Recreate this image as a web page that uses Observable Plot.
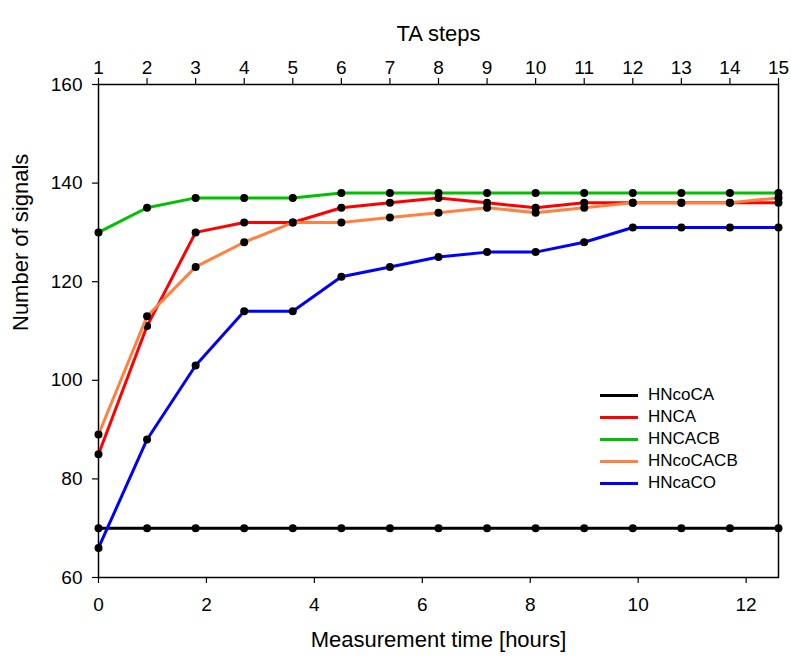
<!DOCTYPE html>
<html>
<head>
<meta charset="utf-8">
<script src="https://cdn.jsdelivr.net/npm/d3@7"></script>
<script src="https://cdn.jsdelivr.net/npm/@observablehq/plot@0.6"></script>
<style>
  html, body { margin: 0; padding: 0; background: #fff; }
  #wrap { position: relative; width: 791px; height: 658px; font-family: "Liberation Sans", Arial, sans-serif; }
  #legend { position: absolute; left: 600px; top: 384px; font-size: 17px; color: #000; }
  .row { display: flex; align-items: center; height: 22px; }
  .sw { width: 38px; height: 3px; margin-right: 10px; }
</style>
</head>
<body>
<div id="wrap"></div>
<script>
const steps = [1,2,3,4,5,6,7,8,9,10,11,12,13,14,15];
const hours = [0,0.9,1.8,2.7,3.6,4.5,5.4,6.3,7.2,8.1,9.0,9.9,10.8,11.7,12.6];
const seriesNames = ["HNcoCA","HNCA","HNCACB","HNcoCACB","HNcaCO"];
const seriesColors = ["#000000","#ff0000","#00c000","#ff8040","#0000ff"];
const HNcoCA   = [70,70,70,70,70,70,70,70,70,70,70,70,70,70,70];
const HNCA     = [85,111,130,132,132,135,136,137,136,135,136,136,136,136,136];
const HNCACB   = [130,135,137,137,137,138,138,138,138,138,138,138,138,138,138];
const HNcoCACB = [89,113,123,128,132,132,133,134,135,134,135,136,136,136,137];
const HNcaCO   = [66,88,103,114,114,121,123,125,126,126,128,131,131,131,131];
const bottomTicks = [0,2,4,6,8,10,12];
const yTicks = [60,80,100,120,140,160];

const values = [HNcoCA, HNCA, HNCACB, HNcoCACB, HNcaCO];
const data = [];
seriesNames.forEach((s, k) => values[k].forEach((v, i) => data.push({series: s, t: hours[i], step: steps[i], v})));

const marks = [];
seriesNames.forEach((s, k) => {
  const d = data.filter(r => r.series === s);
  marks.push(Plot.line(d, {x: "t", y: "v", stroke: seriesColors[k], strokeWidth: 3}));
  marks.push(Plot.dot(d, {x: "t", y: "v", r: 4, fill: "black", stroke: "none"}));
});

const chart = Plot.plot({
  width: 791,
  height: 658,
  marginLeft: 98,
  marginRight: 13,
  marginTop: 84,
  marginBottom: 81,
  style: {fontFamily: "'Liberation Sans', Arial, sans-serif", fontSize: "19px", background: "white", color: "black"},
  x: {domain: [0, 12.6]},
  y: {domain: [60, 160]},
  marks: [
    Plot.axisX(bottomTicks, {anchor: "bottom", tickSize: 6, tickPadding: 14, label: null, fontSize: 19, strokeWidth: 1.2}),
    Plot.axisX(hours, {anchor: "top", tickSize: 7, tickPadding: 4, label: null, fontSize: 19, strokeWidth: 1.2,
      tickFormat: d => String(steps[hours.indexOf(d)])}),
    Plot.axisY(yTicks, {anchor: "left", tickSize: 6, tickPadding: 10, label: null, fontSize: 19, strokeWidth: 1.2}),
    Plot.frame({stroke: "black", strokeWidth: 1.5}),
    ...marks,
    Plot.text(["TA steps"], {frameAnchor: "top", dy: -59, fontSize: 22, text: d => d}),
    Plot.text(["Measurement time [hours]"], {frameAnchor: "bottom", dy: 69, fontSize: 22, text: d => d}),
    Plot.text(["Number of signals"], {frameAnchor: "left", dx: -78, rotate: -90, fontSize: 22, text: d => d})
  ]
});

const wrap = document.getElementById("wrap");
wrap.appendChild(chart);
const legend = document.createElement("div");
legend.id = "legend";
seriesNames.forEach((s, k) => {
  const row = document.createElement("div");
  row.className = "row";
  const sw = document.createElement("span");
  sw.className = "sw";
  sw.style.background = seriesColors[k];
  const lab = document.createElement("span");
  lab.textContent = s;
  row.appendChild(sw);
  row.appendChild(lab);
  legend.appendChild(row);
});
wrap.appendChild(legend);
</script>
</body>
</html>
